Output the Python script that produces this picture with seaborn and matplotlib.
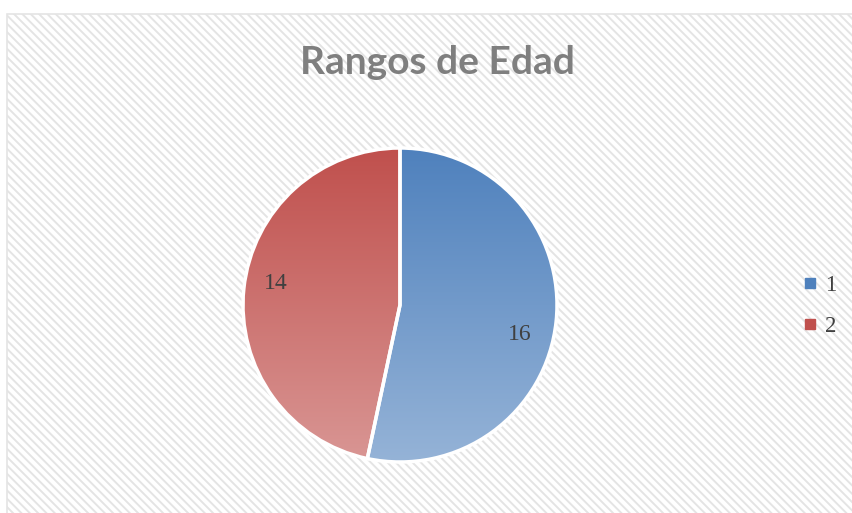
import numpy as np
import seaborn as sns
import matplotlib.pyplot as plt
from matplotlib.patches import Rectangle
from matplotlib.lines import Line2D
from matplotlib.colors import LinearSegmentedColormap

# --- data ---
categories = ['1', '2']
values = [16, 14]
title = 'Rangos de Edad'

# top (dark) and bottom (light) colour of each slice gradient
top_colors = ['#4F81BD', '#C0504D']
bottom_colors = ['#95B3D7', '#D99694']

# Excel "best fit" label spots (axes data units, radius = 1)
label_pos = [(0.76, -0.19), (-0.79, 0.14)]

sns.set_theme(style='white')
plt.rcParams['hatch.linewidth'] = 1.4

fig = plt.figure(figsize=(8.52, 5.13), dpi=100)
fig.patch.set_facecolor('white')

# hatched chart area with light border (Excel style)
bg = Rectangle((7 / 852, -0.02), 1.0, 1 - 14 / 513 + 0.02, transform=fig.transFigure,
               facecolor='white', edgecolor='#E4E4E4', hatch='\\' * 4, linewidth=1.2,
               zorder=-5)
fig.patches.append(bg)

# pie axes: centre ~(400, 305) px, radius ~157 px
ax = fig.add_axes([243 / 852, (513 - 462) / 513, 314 / 852, 314 / 513])
ax.set_facecolor('none')
ax.set_zorder(2)

wedges, texts = ax.pie(values, labels=[str(v) for v in values], startangle=90,
                       counterclock=False, labeldistance=0.79, radius=1,
                       wedgeprops=dict(facecolor='none', edgecolor='white', linewidth=2.5),
                       textprops=dict(family='Liberation Serif', size=17, color='#404040'))
for t, p in zip(texts, label_pos):
    t.set_position(p)
    t.set_ha('center')
    t.set_va('center')
    t.set_zorder(10)

# vertical gradient fill clipped to each wedge
grad = np.linspace(0, 1, 256).reshape(-1, 1)
for w, c0, c1 in zip(wedges, top_colors, bottom_colors):
    cmap = LinearSegmentedColormap.from_list('g', [c0, c1])
    im = ax.imshow(grad, cmap=cmap, extent=(-1, 1, -1, 1), origin='upper',
                   aspect='auto', zorder=1, interpolation='bilinear')
    im.set_clip_path(w)
    w.set_zorder(2)

ax.set_xlim(-1.0, 1.0)
ax.set_ylim(-1.0, 1.0)
ax.set_aspect('equal')
ax.axis('off')

# title
fig.text(437 / 852, 1 - 63 / 513, title, ha='center', va='center',
         family='Lato', weight='bold', size=28, color='#7F7F7F')

# legend
handles = [Line2D([], [], marker='s', linestyle='none', markersize=6.5,
                  markerfacecolor=c, markeredgecolor=c) for c in top_colors]
leg = fig.legend(handles, categories, loc='center left',
                 bbox_to_anchor=(803 / 852, 1 - 306 / 513), frameon=False,
                 prop=dict(family='Liberation Serif', size=16.5), labelcolor='#404040',
                 labelspacing=0.9, handlelength=0.6, handletextpad=0.35,
                 borderpad=0, borderaxespad=0)

plt.savefig('out.png', dpi=100)
